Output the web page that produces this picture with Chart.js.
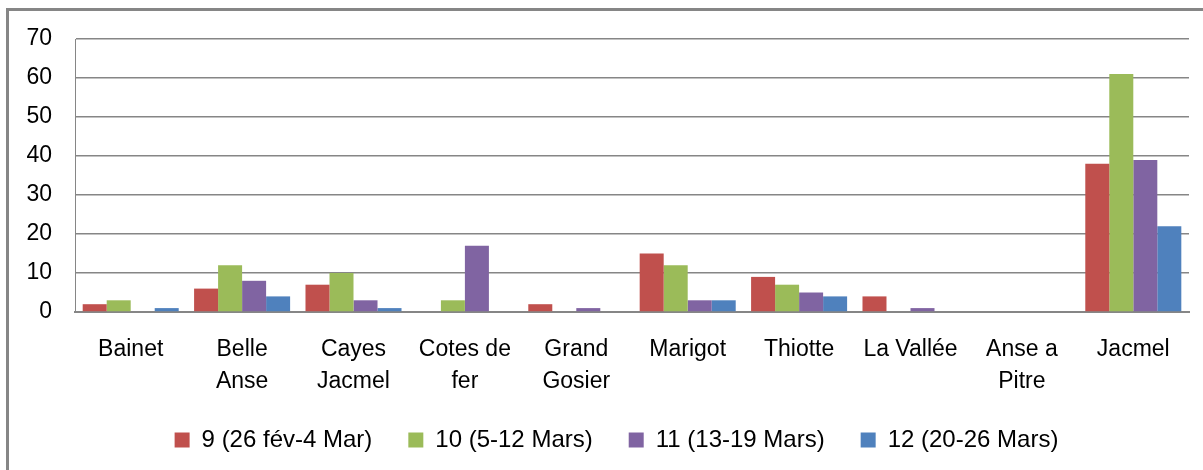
<!DOCTYPE html>
<html>
<head>
<meta charset="utf-8">
<script src="https://cdn.jsdelivr.net/npm/chart.js"></script>
<style>
  html, body { margin:0; padding:0; background:#fff; }
  #wrap { position:relative; width:1203px; height:470px; }
  #frame { position:absolute; left:6px; top:8px; right:0; bottom:0; border-top:3px solid #868686; border-left:3px solid #868686; pointer-events:none; }
  canvas { position:absolute; left:0; top:0; }
</style>
</head>
<body>
<div id="wrap">
  <canvas id="c" width="1203" height="470"></canvas>
  <div id="frame"></div>
</div>
<script>
const categories = [
  "Bainet", ["Belle", "Anse"], ["Cayes", "Jacmel"], ["Cotes de", "fer"], ["Grand", "Gosier"],
  "Marigot", "Thiotte", "La Vallée", ["Anse a", "Pitre"], "Jacmel"
];
const seriesNames = ["9 (26 fév-4 Mar)", "10 (5-12 Mars)", "11 (13-19 Mars)", "12 (20-26 Mars)"];
const week9  = [2, 6, 7, 0, 2, 15, 9, 4, 0, 38];
const week10 = [3, 12, 10, 3, 0, 12, 7, 0, 0, 61];
const week11 = [0, 8, 3, 17, 1, 3, 5, 1, 0, 39];
const week12 = [1, 4, 1, 0, 0, 3, 4, 0, 0, 22];
const yTicks = [0, 10, 20, 30, 40, 50, 60, 70];
const colors = ["#C0504D", "#9BBB59", "#8064A2", "#4F81BD"];

const FONT = "'Liberation Sans', Arial, sans-serif";
const data = {
  labels: categories,
  datasets: [week9, week10, week11, week12].map((d, i) => ({
    label: seriesNames[i],
    data: d,
    backgroundColor: colors[i],
    borderWidth: 0,
    categoryPercentage: 0.862,
    barPercentage: 1.0
  }))
};

const legendShift = {
  id: 'legendShift',
  afterLayout(chart) {
    const l = chart.legend;
    if (!l) return;
    l.top -= 4; l.bottom -= 4;
    l.left += 22; l.right += 22;
  }
};

new Chart(document.getElementById('c'), {
  type: 'bar',
  data,
  plugins: [legendShift],
  options: {
    responsive: false,
    animation: false,
    layout: { padding: { top: 39, right: 14, left: 0, bottom: 4 } },
    plugins: {
      tooltip: { enabled: false },
      legend: {
        position: 'bottom',
        labels: {
          boxWidth: 15, boxHeight: 15, padding: 36,
          color: '#000',
          font: { family: FONT, size: 24 }
        }
      }
    },
    scales: {
      x: {
        grid: { display: false, drawTicks: false },
        border: { display: true, color: '#868686', width: 2 },
        ticks: { color: '#000', padding: 22, maxRotation: 0, autoSkip: false,
                 font: { family: FONT, size: 23, lineHeight: 1.391 } },
        afterFit: s => { s.height = 84; }
      },
      y: {
        min: 0, max: 70,
        afterBuildTicks: s => { s.ticks = yTicks.map(v => ({ value: v })); },
        grid: { color: '#868686', lineWidth: 1.5, drawTicks: false },
        border: { display: true, color: '#868686', width: 1 },
        ticks: { color: '#000', padding: 23, font: { family: FONT, size: 23 } },
        afterFit: s => { s.width = 75; }
      }
    }
  }
});
</script>
</body>
</html>
